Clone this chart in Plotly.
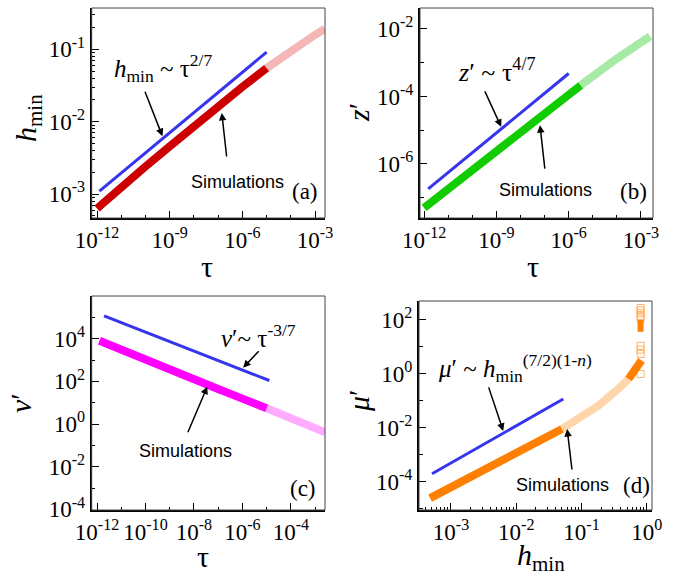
import plotly.graph_objects as go

W, H = 690, 576

# ---------------- data (log10 values) ----------------
a_tau_solid = [1e-12, 1e-11, 1e-10, 1e-9, 1e-8, 1e-7, 1e-6, 1e-5]
a_h_solid = [10**-3.20, 10**-2.90, 10**-2.62, 10**-2.34, 10**-2.06, 10**-1.79, 10**-1.52, 10**-1.26]
a_tau_faint = [1e-5, 1e-4, 1e-3, 10**-2.6]
a_h_faint = [10**-1.26, 10**-1.02, 10**-0.80, 10**-0.72]
a_fit_tau = [10**-11.9, 10**-5.0]
a_fit_h = [10**-2.96, 10**-1.04]

b_tau_solid = [1e-12, 1e-11, 1e-10, 1e-9, 1e-8, 1e-7, 1e-6, 10**-5.5]
b_z_solid = [10**-7.30, 10**-6.73, 10**-6.16, 10**-5.60, 10**-5.04, 10**-4.49, 10**-3.94, 10**-3.67]
b_tau_faint = [10**-5.5, 1e-5, 1e-4, 1e-3, 10**-2.62]
b_z_faint = [10**-3.67, 10**-3.40, 10**-2.88, 10**-2.40, 10**-2.22]
b_fit_tau = [10**-11.83, 1e-6]
b_fit_z = [10**-6.74, 10**-3.32]

c_tau_solid = [10**-11.9, 1e-11, 1e-10, 1e-9, 1e-8, 1e-7, 1e-6, 1e-5]
c_nu_solid = [10**3.90, 10**3.47, 10**3.02, 10**2.57, 10**2.10, 10**1.64, 10**1.19, 10**0.74]
c_tau_faint = [1e-5, 1e-4, 1e-3, 10**-2.58]
c_nu_faint = [10**0.74, 10**0.28, 10**-0.19, 10**-0.39]
c_fit_tau = [10**-11.71, 10**-4.89]
c_fit_nu = [10**5.07, 10**2.04]

d_h_solid = [10**-3.32, 10**-3.0, 10**-2.5, 10**-2.0, 10**-1.5, 10**-1.3]
d_mu_solid = [10**-4.60, 10**-4.19, 10**-3.56, 10**-2.93, 10**-2.29, 10**-2.04]
d_h_faint = [10**-1.3, 10**-1.05, 10**-0.74, 10**-0.44, 10**-0.28]
d_mu_faint = [10**-2.04, 10**-1.67, 10**-1.17, 10**-0.56, 10**-0.19]
d_h_end = [10**-0.28, 10**-0.13, 10**-0.08]
d_mu_end = [10**-0.19, 10**0.31, 10**0.50]
d_h_strip = [10**-0.095, 10**-0.095]
d_mu_strip = [10**1.56, 10**2.0]
d_h_open = [10**-0.095] * 9
d_mu_open = [10**2.44, 10**2.35, 10**2.25, 10**2.15, 10**2.06, 10**1.04, 10**0.9, 10**0.74, 10**0.0]
d_fit_h = [10**-3.29, 10**-1.28]
d_fit_mu = [10**-3.7, 10**-0.93]

BLUE = "#3535ee"
SERIF = "Liberation Serif"
SANS = "Liberation Sans"

fig = go.Figure()

def band(x, y, color, width, ax, opacity=1.0):
    fig.add_trace(go.Scatter(x=x, y=y, mode="lines", xaxis=ax[0], yaxis=ax[1],
                             line=dict(color=color, width=width), opacity=opacity,
                             showlegend=False, hoverinfo="skip"))

band(a_tau_faint, a_h_faint, "#e03030", 8, ("x", "y"), 0.35)
band(a_tau_solid, a_h_solid, "#cc0000", 8, ("x", "y"))
band(a_fit_tau, a_fit_h, BLUE, 3, ("x", "y"))
band(b_tau_faint, b_z_faint, "#22cc22", 8, ("x2", "y2"), 0.4)
band(b_tau_solid, b_z_solid, "#11cc00", 8, ("x2", "y2"))
band(b_fit_tau, b_fit_z, BLUE, 3, ("x2", "y2"))
band(c_tau_faint, c_nu_faint, "#ff33ff", 8, ("x3", "y3"), 0.4)
band(c_tau_solid, c_nu_solid, "#ff00ff", 8, ("x3", "y3"))
band(c_fit_tau, c_fit_nu, BLUE, 3, ("x3", "y3"))
band(d_h_faint, d_mu_faint, "#ff9933", 8, ("x4", "y4"), 0.4)
band(d_h_solid, d_mu_solid, "#ff8000", 8, ("x4", "y4"))
band(d_h_end, d_mu_end, "#ff8000", 8, ("x4", "y4"))
band(d_h_strip, d_mu_strip, "#ff8000", 6, ("x4", "y4"))
fig.add_trace(go.Scatter(x=d_h_open, y=d_mu_open, mode="markers", xaxis="x4", yaxis="y4",
                         marker=dict(symbol="square-open", size=7, color="#ff8000", line=dict(width=1)),
                         opacity=0.6, showlegend=False, hoverinfo="skip"))
band(d_fit_h, d_fit_mu, BLUE, 3, ("x4", "y4"))

def decades(lo, hi):
    return [10.0**k for k in range(lo, hi + 1)]

def minors(lo, hi):
    out = []
    for k in range(lo, hi + 1):
        for m in range(2, 10):
            out.append(m * 10.0**k)
    return out

def axis(domain, rng, tickexp, minorvals, anchor, fsize=23):
    return dict(type="log", domain=domain, range=rng, anchor=anchor, automargin=False,
                tickmode="array", tickvals=[10.0**e for e in tickexp],
                ticktext=["10<sup>%d</sup>" % e for e in tickexp], tickangle=0,
                ticks="inside", ticklen=7, tickwidth=1.2, tickcolor="black",
                minor=dict(tickmode="array", tickvals=minorvals, ticks="inside",
                           ticklen=3.5, tickwidth=1, tickcolor="black", showgrid=False),
                showline=True, linecolor="black", linewidth=2, mirror=False,
                showgrid=False, zeroline=False,
                tickfont=dict(family=SERIF, size=fsize, color="black"))

def px(x):
    return x / W

def py(y):
    return 1 - y / H

dxa = [px(91.7), px(325)]
dxb = [px(420), px(653)]
dxd = [px(419), px(652)]
dya = [py(218), py(8)]
dyc = [py(510), py(296)]
dyd = [py(510), py(301)]

fig.update_layout(
    template="none",
    xaxis=axis(dxa, [-12.22, -2.59], [-12, -9, -6, -3], decades(-12, -3), "y"),
    yaxis=axis(dya, [-3.33, -0.43], [-3, -2, -1], minors(-4, -1), "x"),
    xaxis2=axis(dxb, [-12.17, -2.5], [-12, -9, -6, -3], decades(-12, -3), "y2"),
    yaxis2=axis(dya, [-7.6, -1.38], [-6, -4, -2], decades(-8, -1), "x2"),
    xaxis3=axis(dxa, [-12.22, -2.59], [-12, -10, -8, -6, -4], decades(-12, -3), "y3"),
    yaxis3=axis(dyc, [-4.03, 6.0], [-4, -2, 0, 2, 4], decades(-4, 6), "x3"),
    xaxis4=axis(dxd, [-3.49, 0.08], [-3, -2, -1, 0], minors(-4, 0), "y4"),
    yaxis4=axis(dyd, [-5.04, 2.7], [-4, -2, 0, 2], decades(-5, 2), "x4"),
)

shapes = []
for xs, ys in [("x", "y"), ("x2", "y2"), ("x3", "y3"), ("x4", "y4")]:
    shapes.append(dict(type="rect", xref=xs + " domain", yref=ys + " domain",
                       x0=0, x1=1, y0=0, y1=1, line=dict(color="#444444", width=1),
                       layer="above"))

ann = []

def text(x, y, s, size, family=SERIF, angle=0):
    ann.append(dict(x=px(x), y=py(y), xref="paper", yref="paper", text=s, showarrow=False,
                    xanchor="center", yanchor="middle", textangle=angle,
                    font=dict(family=family, size=size, color="black")))

def arrow(xr, yr, hx, hy, axp, ayp):
    ann.append(dict(x=hx, y=hy, xref=xr, yref=yr, ax=axp, ay=ayp, text="", showarrow=True,
                    arrowhead=2, arrowsize=1, arrowwidth=1.5, arrowcolor="black"))

text(207, 266, "τ", 30)
text(533, 266, "τ", 30)
text(203, 556, "τ", 30)
text(541, 557, "<i>h</i><sub>min</sub>", 30)
text(28, 118, "<i>h</i><sub>min</sub>", 30, angle=-90)
text(358, 113, "<i>z</i>′", 30, angle=-90)
text(20, 403, "<i>ν</i>′", 30, angle=-90)
text(358, 401, "<i>μ</i>′", 30, angle=-90)

text(163, 68, "<i>h</i><sub>min</sub> ~ τ<sup>2/7</sup>", 25)
text(497, 70, "<i>z</i>′ ~ τ<sup>4/7</sup>", 26)
text(258, 336, "<i>ν</i>′~ τ<sup>-3/7</sup>", 25)
text(515, 368, "<i>μ</i>′ ~ <i>h</i><sub>min</sub><sup>(7/2)(1-<i>n</i>)</sup>", 25)

text(237, 182, "Simulations", 18, SANS)
text(545, 190, "Simulations", 18, SANS)
text(185, 451, "Simulations", 18, SANS)
text(562, 485, "Simulations", 18, SANS)

text(305, 192, "(a)", 23)
text(633, 192, "(b)", 23)
text(303, 488, "(c)", 23)
text(636, 485, "(d)", 23)

arrow("x", "y", -9.3, -2.2, -18, -46)
arrow("x", "y", -6.85, -1.88, 5, 45)
arrow("x2", "y2", -8.8, -4.9, -17, -37)
arrow("x2", "y2", -7.19, -4.85, 5, 45)
arrow("x3", "y3", -5.97, 2.64, 17, -18)
arrow("x3", "y3", -7.45, 1.75, -20, 47)
arrow("x4", "y4", -2.2, -2.11, -15, -45)
arrow("x4", "y4", -1.22, -2.04, 5, 42)

fig.update_layout(width=W, height=H, margin=dict(l=0, r=0, t=0, b=0, autoexpand=False),
                  paper_bgcolor="white", plot_bgcolor="white",
                  shapes=shapes, annotations=ann, showlegend=False)

fig.write_html("out.html", config={"displayModeBar": False},
               post_script="document.body.style.margin='0px';")
